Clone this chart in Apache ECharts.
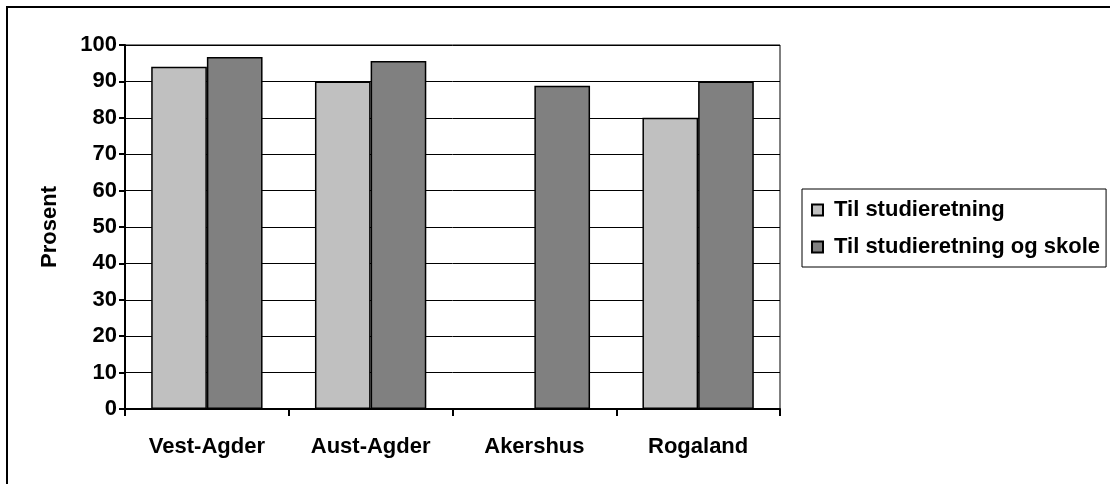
<!DOCTYPE html>
<html>
<head>
<meta charset="utf-8">
<script src="https://cdn.jsdelivr.net/npm/echarts@6/dist/echarts.min.js"></script>
<style>
  html, body { margin: 0; padding: 0; background: #fff; }
  #chart { width: 1110px; height: 484px; }
</style>
</head>
<body>
<div id="chart"></div>
<script>
var categories = ['Vest-Agder', 'Aust-Agder', 'Akershus', 'Rogaland'];
var seriesNames = ['Til studieretning', 'Til studieretning og skole'];
var studieretning = [94, 90, null, 80];
var studieretningSkole = [96.7, 95.6, 88.8, 90];

var font = 'Arial, "Liberation Sans", sans-serif';
var chart = echarts.init(document.getElementById('chart'));

var option = {
    backgroundColor: '#fff',
    animation: false,
    textStyle: { fontFamily: font },
    graphic: [{
        type: 'rect',
        shape: { x: 7, y: 7, width: 1120, height: 500 },
        style: { fill: 'none', stroke: '#000', lineWidth: 2 },
        z: 100
    }],
    legend: {
        orient: 'vertical',
        left: 802,
        top: 189,
        data: seriesNames,
        icon: 'rect',
        itemWidth: 11,
        itemHeight: 11,
        itemGap: 15,
        padding: [10, 6, 9, 9],
        borderColor: '#000',
        borderWidth: 1,
        textStyle: { fontSize: 22, fontWeight: 'bold', color: '#000', fontFamily: font, padding: [0, 0, 0, 6] }
    },
    grid: {
        left: 125,
        right: 330,
        top: 45,
        bottom: 75,
        show: true,
        borderColor: '#000',
        borderWidth: 1
    },
    xAxis: {
        type: 'category',
        data: categories,
        axisLine: { lineStyle: { color: '#000', width: 2 } },
        axisTick: { show: true, length: 7, lineStyle: { color: '#000', width: 2 } },
        axisLabel: { margin: 27, fontSize: 22, fontWeight: 'bold', color: '#000', fontFamily: font }
    },
    yAxis: {
        type: 'value',
        min: 0,
        max: 100,
        interval: 10,
        name: 'Prosent',
        nameLocation: 'middle',
        nameGap: 64,
        nameTextStyle: { fontSize: 22, fontWeight: 'bold', color: '#000', fontFamily: font },
        axisLine: { show: true, lineStyle: { color: '#000', width: 2 } },
        axisTick: { show: true, length: 6, lineStyle: { color: '#000', width: 2 } },
        axisLabel: { margin: 8, fontSize: 22, fontWeight: 'bold', color: '#000', fontFamily: font },
        splitLine: { show: true, lineStyle: { color: '#000', width: 1 } }
    },
    series: [
        {
            name: seriesNames[0],
            type: 'bar',
            data: studieretning,
            barGap: '0%',
            barCategoryGap: '32%',
            itemStyle: { color: '#c0c0c0', borderColor: '#000', borderWidth: 1.5 }
        },
        {
            name: seriesNames[1],
            type: 'bar',
            data: studieretningSkole,
            barGap: '0%',
            barCategoryGap: '32%',
            itemStyle: { color: '#808080', borderColor: '#000', borderWidth: 1.5 }
        }
    ]
};
chart.setOption(option);
</script>
</body>
</html>
